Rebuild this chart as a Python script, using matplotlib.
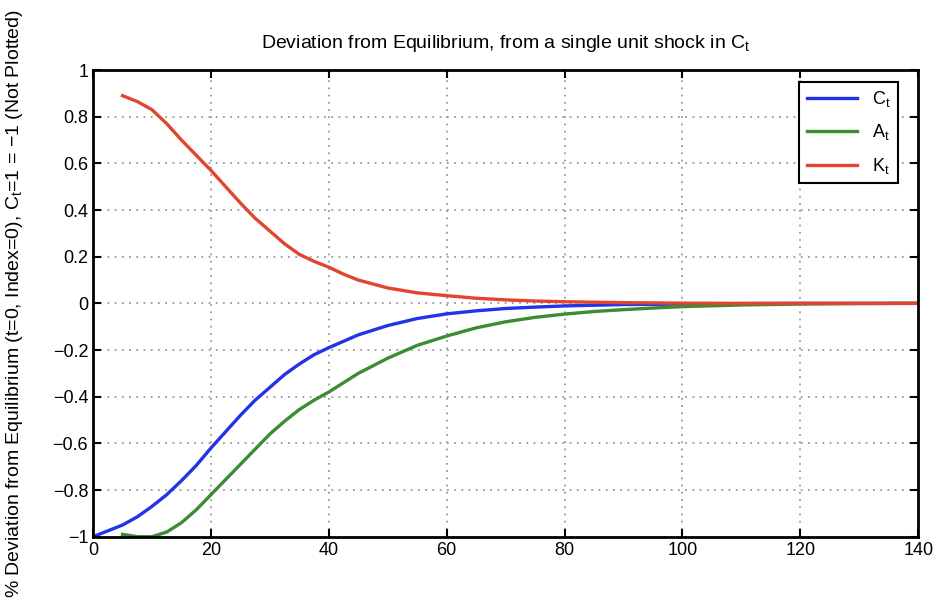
import matplotlib
matplotlib.use('Agg')
import matplotlib.pyplot as plt
from matplotlib.ticker import MultipleLocator, FuncFormatter

plt.rcParams['font.family'] = ['Liberation Sans', 'DejaVu Sans']
plt.rcParams['mathtext.default'] = 'regular'

# Impulse responses
c_t = [0, 2, 5, 7.5, 10, 12.5, 15, 17.5, 20, 22.5, 25, 27.5, 30, 32.5, 35,
       37.5, 40, 45, 50, 55, 60, 65, 70, 75, 80, 85, 90, 95, 100, 110, 120,
       130, 140]
c_vals = [-1.0, -0.98, -0.95, -0.915, -0.87, -0.82, -0.76, -0.695, -0.62,
          -0.55, -0.48, -0.415, -0.36, -0.305, -0.26, -0.22, -0.19, -0.135,
          -0.095, -0.065, -0.045, -0.032, -0.022, -0.016, -0.011, -0.008,
          -0.005, -0.004, -0.003, -0.001, 0.0, 0.0, 0.0]

a_t = [5, 7.5, 10, 12.5, 15, 17.5, 20, 22.5, 25, 27.5, 30, 32.5, 35, 37.5,
       40, 45, 50, 55, 60, 65, 70, 75, 80, 85, 90, 95, 100, 110, 120, 130,
       140]
a_vals = [-0.99, -1.0, -1.0, -0.98, -0.94, -0.885, -0.82, -0.755, -0.69,
          -0.625, -0.56, -0.505, -0.455, -0.415, -0.38, -0.30, -0.235, -0.18,
          -0.14, -0.105, -0.079, -0.06, -0.046, -0.035, -0.027, -0.02, -0.014,
          -0.007, -0.003, -0.001, 0.0]

k_t = [5, 7.5, 10, 12.5, 15, 17.5, 20, 22.5, 25, 27.5, 30, 32.5, 35, 37.5,
       40, 42.5, 45, 50, 55, 60, 65, 70, 75, 80, 90, 100, 110, 120, 130, 140]
k_vals = [0.89, 0.865, 0.83, 0.77, 0.70, 0.635, 0.57, 0.50, 0.43, 0.365,
          0.31, 0.255, 0.21, 0.18, 0.155, 0.125, 0.10, 0.066, 0.045, 0.033,
          0.022, 0.015, 0.01, 0.007, 0.003, 0.001, 0.0, 0.0, 0.0, 0.0]

fig = plt.figure(figsize=(9.36, 6), dpi=100)
ax = fig.add_axes([0.0994, 0.1055, 0.8816, 0.7778])

ax.plot(c_t, c_vals, color='#2233e8', linewidth=2.4, label='C$_t$')
ax.plot(a_t, a_vals, color='#3c8c32', linewidth=2.4, label='A$_t$')
ax.plot(k_t, k_vals, color='#e2452f', linewidth=2.4, label='K$_t$')

ax.set_xlim(0, 140)
ax.set_ylim(-1, 1)
ax.xaxis.set_major_locator(MultipleLocator(20))
ax.yaxis.set_major_locator(MultipleLocator(0.2))
ax.yaxis.set_major_formatter(FuncFormatter(
    lambda v, p: ('%g' % round(v, 1)).replace('-', '\u2212')))

ax.grid(True, linestyle=(0, (1, 3)), color='#999999', linewidth=1.3)
ax.set_axisbelow(True)
ax.tick_params(direction='in', top=True, right=True, length=6, width=1.5,
               labelsize=13, colors='black')
for s in ax.spines.values():
    s.set_linewidth(2)

ax.set_title('Deviation from Equilibrium, from a single unit shock in C$_t$',
             fontsize=14, pad=16)
ax.set_ylabel('% Deviation from Equilibrium (t=0, Index=0), C$_t$=1 = \u22121 (Not Plotted)',
              fontsize=14)
ax.yaxis.set_label_coords(-0.082, 0.5)

leg = ax.legend(loc='upper right', bbox_to_anchor=(0.975, 0.975),
                borderaxespad=0, fontsize=13, fancybox=False,
                framealpha=1, edgecolor='black',
                handlelength=2.8, labelspacing=0.75)
leg.get_frame().set_linewidth(1.5)

fig.savefig('out.png', dpi=100)
